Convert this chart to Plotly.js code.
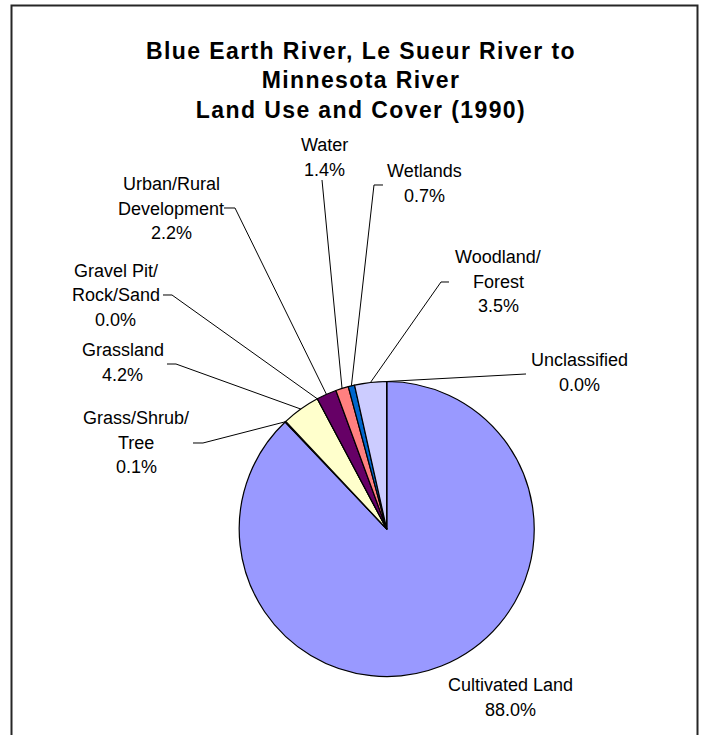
<!DOCTYPE html>
<html>
<head>
<meta charset="utf-8">
<script src="https://cdn.plot.ly/plotly-3.0.1.min.js"></script>
<style>
  html, body { margin: 0; padding: 0; background: #fff; }
  #chart { width: 702px; height: 735px; }
  .gtitle { letter-spacing: 1.4px; }
</style>
</head>
<body>
<div id="chart"></div>
<script>
// ---- data ----
const categories = ["Cultivated Land", "Grass/Shrub/Tree", "Grassland", "Gravel Pit/Rock/Sand",
  "Urban/Rural Development", "Water", "Wetlands", "Woodland/Forest", "Unclassified"];
const values = [88.0, 0.1, 4.2, 0.0, 2.2, 1.4, 0.7, 3.5, 0.0];
const labelLines = [["Cultivated Land"], ["Grass/Shrub/", "Tree"], ["Grassland"], ["Gravel Pit/", "Rock/Sand"],
  ["Urban/Rural", "Development"], ["Water"], ["Wetlands"], ["Woodland/", "Forest"], ["Unclassified"]];
const titleText = "Blue Earth River, Le Sueur River to<br>Minnesota River<br>Land Use and Cover (1990)";

// ---- styles / layout positions (pixels) ----
const colors = ["#9999FF", "#CCFFCC", "#FFFFCC", "#C0C0C0", "#660066", "#FF8080", "#0066CC", "#CCCCFF", "#FFFFFF"];
const W = 702, H = 735;
const CX = 386.7, CY = 529, R = 147.5;
const LINE_H = 24.5;
const labelPos = [[510, 685], [136, 418], [123, 350], [116, 271], [171, 184], [324, 145], [424, 171], [498, 257], [579, 360]];
const leaderPts = [null, [[193, 443], [203, 443]], [[167, 364], [176, 364]], [[163, 295], [172, 295]],
  [[224, 208], [235, 208]], [[322, 180]], [[383, 185], [374, 185]], [[449, 282], [441, 282]], [[526, 374]]];

const px = x => x / W;
const py = y => 1 - y / H;
const FONT = "Liberation Sans, Arial, sans-serif";

const total = values.reduce((a, b) => a + b, 0);
const annotations = [];
const shapes = [];
let cum = 0;
values.forEach((v, i) => {
  const mid = (cum + v / 2) / total;
  cum += v;
  const lines = labelLines[i].concat([v.toFixed(1) + "%"]);
  const [lx, ly] = labelPos[i];
  lines.forEach((t, k) => {
    annotations.push({
      text: t, x: px(lx), y: py(ly + k * LINE_H), xref: "paper", yref: "paper",
      xanchor: "center", yanchor: "middle", showarrow: false,
      font: { family: FONT, size: 18, color: "#000" }
    });
  });
  if (leaderPts[i]) {
    const ang = mid * 2 * Math.PI;
    const rx = CX + R * Math.sin(ang), ry = CY - R * Math.cos(ang);
    const pts = leaderPts[i].concat([[rx, ry]]);
    const path = pts.map((p, k) => (k ? "L" : "M") + px(p[0]).toFixed(5) + "," + py(p[1]).toFixed(5)).join(" ");
    shapes.push({ type: "path", xref: "paper", yref: "paper", path: path, line: { color: "#000", width: 1 } });
  }
});

// outer frame
shapes.push({ type: "rect", xref: "paper", yref: "paper", x0: px(11.5), x1: px(697.5), y0: -0.05, y1: py(5.5),
  line: { color: "#262626", width: 2 }, fillcolor: "rgba(0,0,0,0)" });

const trace = {
  type: "pie", labels: categories, values: values, sort: false, direction: "clockwise", rotation: 0,
  textinfo: "none", hoverinfo: "label+percent",
  marker: { colors: colors, line: { color: "#000", width: 1.2 } },
  domain: { x: [(CX - R) / W, (CX + R) / W], y: [(H - CY - R) / H, (H - CY + R) / H] },
  showlegend: false
};

const layout = {
  width: W, height: H, margin: { l: 0, r: 0, t: 0, b: 0 },
  paper_bgcolor: "#fff",
  title: { text: titleText, x: px(361), xanchor: "center", y: py(58.5), yanchor: "top", yref: "container",
    font: { family: FONT, size: 23, color: "#000", weight: "bold" } },
  annotations: annotations, shapes: shapes, showlegend: false
};

Plotly.newPlot("chart", [trace], layout, { displayModeBar: false, staticPlot: true });
</script>
</body>
</html>
